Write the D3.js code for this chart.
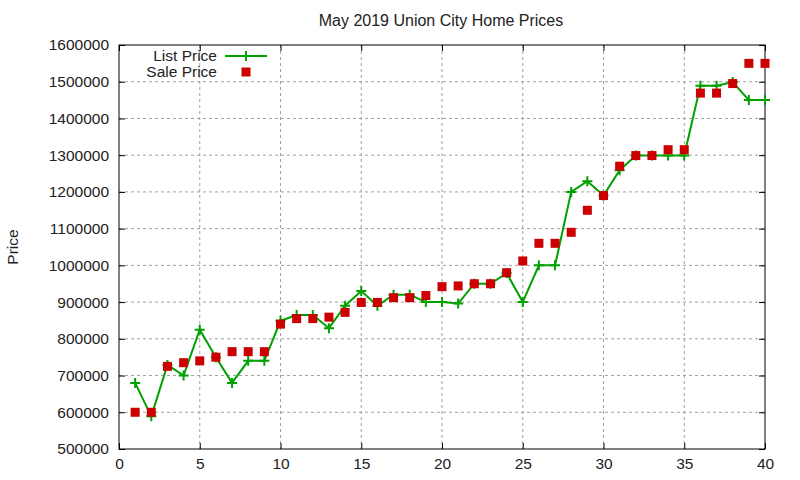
<!DOCTYPE html>
<html>
<head>
<meta charset="utf-8">
<script src="https://cdn.jsdelivr.net/npm/d3@7"></script>
<style>
  body { margin: 0; background: #fff; }
  text { font-family: "Liberation Sans", Arial, sans-serif; fill: #222; }
</style>
</head>
<body>
<div id="grafik"></div>
<script>
// Veriler
const gunler = d3.range(1, 41);
const listeFiyati = [680000, 589000, 729000, 700000, 825000, 750000, 680000, 740000, 740000, 849000,
  865000, 865000, 829000, 890000, 930000, 890000, 920000, 920000, 900000, 900000,
  896000, 950000, 950000, 979000, 900000, 1000000, 1000000, 1200000, 1229000, 1190000,
  1259000, 1299000, 1299000, 1299000, 1299000, 1489000, 1489000, 1499000, 1450000, 1450000];
const satisFiyati = [600000, 600000, 725000, 735000, 740000, 750000, 765000, 765000, 765000, 840000,
  855000, 855000, 859000, 872000, 899000, 899000, 912000, 912000, 918000, 942000,
  944000, 950000, 950000, 980000, 1012000, 1060000, 1060000, 1090000, 1150000, 1190000,
  1270000, 1299000, 1299000, 1315000, 1315000, 1469000, 1469000, 1495000, 1550000, 1550000];
const xTikleri = [0, 5, 10, 15, 20, 25, 30, 35, 40];
const yTikleri = d3.range(500000, 1600001, 100000);

const genislik = 800, yukseklik = 480;
const kenar = { sol: 119, sag: 765, ust: 45, alt: 449 };

const svg = d3.select("#grafik").append("svg")
  .attr("width", genislik)
  .attr("height", yukseklik);

const x = d3.scaleLinear().domain([0, 40]).range([kenar.sol, kenar.sag]);
const y = d3.scaleLinear().domain([500000, 1600000]).range([kenar.alt, kenar.ust]);

// Izgara
svg.append("g").selectAll("line").data(yTikleri.slice(1, -1)).enter().append("line")
  .attr("x1", kenar.sol).attr("x2", kenar.sag)
  .attr("y1", d => y(d)).attr("y2", d => y(d))
  .attr("stroke", "#a0a0a0").attr("stroke-dasharray", "3,3");
svg.append("g").selectAll("line").data(xTikleri.slice(1, -1)).enter().append("line")
  .attr("y1", kenar.ust).attr("y2", kenar.alt)
  .attr("x1", d => x(d)).attr("x2", d => x(d))
  .attr("stroke", "#a0a0a0").attr("stroke-dasharray", "3,3");

// Eksenler
const solEksen = svg.append("g").attr("transform", `translate(${kenar.sol},0)`)
  .call(d3.axisLeft(y).tickValues(yTikleri).tickFormat(d3.format("d")).tickSize(-6).tickPadding(10));
const sagEksen = svg.append("g").attr("transform", `translate(${kenar.sag},0)`)
  .call(d3.axisRight(y).tickValues(yTikleri).tickFormat("").tickSize(-6));
const altEksen = svg.append("g").attr("transform", `translate(0,${kenar.alt})`)
  .call(d3.axisBottom(x).tickValues(xTikleri).tickSize(-6).tickPadding(9));
const ustEksen = svg.append("g").attr("transform", `translate(0,${kenar.ust})`)
  .call(d3.axisTop(x).tickValues(xTikleri).tickFormat("").tickSize(-6));

[solEksen, sagEksen, altEksen, ustEksen].forEach(e => {
  e.select(".domain").remove();
  e.selectAll("line").attr("stroke", "#000");
  e.selectAll("text").style("font-size", "15.5px").style("font-family", "Liberation Sans, Arial, sans-serif").attr("fill", "#222");
});

// Cerceve
svg.append("rect")
  .attr("x", kenar.sol).attr("y", kenar.ust)
  .attr("width", kenar.sag - kenar.sol).attr("height", kenar.alt - kenar.ust)
  .attr("fill", "none").attr("stroke", "#000");

// Liste fiyati cizgisi
const cizgi = d3.line().x((d, i) => x(gunler[i])).y(d => y(d));
svg.append("path").datum(listeFiyati)
  .attr("d", cizgi)
  .attr("fill", "none").attr("stroke", "#00a000").attr("stroke-width", 2);

function arti(g, cx, cy) {
  g.append("path")
    .attr("d", `M${cx - 5},${cy}H${cx + 5}M${cx},${cy - 5}V${cy + 5}`)
    .attr("stroke", "#00a000").attr("stroke-width", 2);
}
const artilar = svg.append("g");
listeFiyati.forEach((d, i) => arti(artilar, x(gunler[i]), y(d)));

// Satis fiyati kareleri
svg.append("g").selectAll("rect").data(satisFiyati).enter().append("rect")
  .attr("x", (d, i) => x(gunler[i]) - 4.5)
  .attr("y", d => y(d) - 4.5)
  .attr("width", 9).attr("height", 9)
  .attr("fill", "#cc0000");

// Lejant
svg.append("text").attr("x", 217).attr("y", 61).attr("text-anchor", "end")
  .style("font-size", "15.5px").text("List Price");
svg.append("line").attr("x1", 225).attr("x2", 267).attr("y1", 56).attr("y2", 56)
  .attr("stroke", "#00a000").attr("stroke-width", 2);
arti(svg, 246, 56);
svg.append("text").attr("x", 217).attr("y", 77).attr("text-anchor", "end")
  .style("font-size", "15.5px").text("Sale Price");
svg.append("rect").attr("x", 241.5).attr("y", 67.5).attr("width", 9).attr("height", 9)
  .attr("fill", "#cc0000");

// Basliklar
svg.append("text").attr("x", 441).attr("y", 26).attr("text-anchor", "middle")
  .style("font-size", "16px").text("May 2019 Union City Home Prices");
svg.append("text").attr("transform", "translate(18,247) rotate(-90)")
  .attr("text-anchor", "middle").style("font-size", "15.5px").text("Price");
</script>
</body>
</html>
